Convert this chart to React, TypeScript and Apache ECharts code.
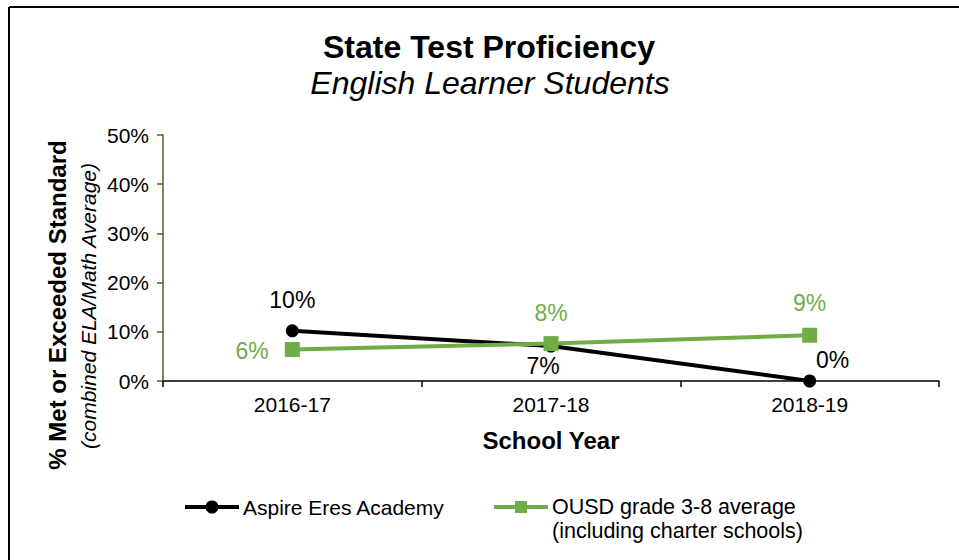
import React, { useEffect, useRef } from "react";
import * as echarts from "echarts";

const categories = ["2016-17", "2017-18", "2018-19"];
const aspireValues = [10.2, 7.1, 0];
const ousdValues = [6.4, 7.6, 9.3];
const yTicks = [0, 10, 20, 30, 40, 50];
const seriesNames = ["Aspire Eres Academy", "OUSD grade 3-8 average\n(including charter schools)"];
const titleText = "State Test Proficiency";
const subtitleText = "English Learner Students";
const yTitle = "% Met or Exceeded Standard";
const ySubTitle = "(combined ELA/Math Average)";
const xTitle = "School Year";

const FONT = "'Liberation Sans', Arial, Helvetica, sans-serif";
const GREEN = "#70ad47";

export default function App() {
  const ref = useRef<HTMLDivElement>(null);
  useEffect(() => {
    if (!ref.current) return;
    const chart = echarts.init(ref.current, null, { renderer: "svg" });
    const fmt = (p: any) => Math.round(p.value) + "%";
    const blackLabels = [
      { position: "top", distance: 13, offset: [0, 0] },
      { position: "bottom", distance: 2, offset: [-8, 0] },
      { position: "top", distance: 3, offset: [23, 0] },
    ];
    const greenLabels = [
      { position: "left", distance: 16, offset: [0, 1] },
      { position: "top", distance: 12, offset: [0, 0] },
      { position: "top", distance: 13, offset: [0, 0] },
    ];
    chart.setOption({
      animation: false,
      backgroundColor: "#ffffff",
      grid: { left: 163, top: 135, width: 776, height: 246 },
      xAxis: {
        type: "category",
        data: categories,
        boundaryGap: true,
        axisLine: { lineStyle: { color: "#000", width: 1.5 } },
        axisTick: { show: true, length: 6, interval: 0, lineStyle: { color: "#000", width: 1.5 } },
        axisLabel: { fontSize: 21, color: "#000", fontFamily: FONT, margin: 13 },
      },
      yAxis: {
        type: "value",
        min: yTicks[0],
        max: yTicks[yTicks.length - 1],
        interval: 10,
        axisLine: { show: true, lineStyle: { color: "#4f6228", width: 1.5 } },
        axisTick: { show: true, length: 6, lineStyle: { color: "#4f6228", width: 1.5 } },
        splitLine: { show: false },
        axisLabel: { formatter: "{value}%", fontSize: 21, color: "#000", fontFamily: FONT, margin: 14 },
      },
      series: [
        {
          name: seriesNames[0],
          type: "line",
          data: aspireValues.map((v, i) => ({
            value: v,
            label: blackLabels[i],
          })),
          symbol: "circle",
          symbolSize: 13,
          lineStyle: { color: "#000", width: 4 },
          itemStyle: { color: "#000" },
          label: { show: true, formatter: fmt, fontSize: 23, color: "#000", fontFamily: FONT },
          z: 2,
        },
        {
          name: seriesNames[1],
          type: "line",
          data: ousdValues.map((v, i) => ({
            value: v,
            label: greenLabels[i],
          })),
          symbol: "rect",
          symbolSize: 15,
          lineStyle: { color: GREEN, width: 4 },
          itemStyle: { color: GREEN },
          label: { show: true, formatter: fmt, fontSize: 23, color: GREEN, fontFamily: FONT },
          z: 3,
        },
      ],
      graphic: [
        { type: "line", shape: { x1: 9, y1: 7, x2: 959, y2: 7 }, style: { stroke: "#000", lineWidth: 2 } },
        { type: "line", shape: { x1: 9, y1: 7, x2: 9, y2: 560 }, style: { stroke: "#000", lineWidth: 2 } },
        {
          type: "text", x: 489, y: 47,
          style: { text: titleText, font: `bold 32px ${FONT}`, fill: "#000", align: "center", verticalAlign: "middle" },
        },
        {
          type: "text", x: 490, y: 83,
          style: { text: subtitleText, font: `italic 32px ${FONT}`, fill: "#000", align: "center", verticalAlign: "middle" },
        },
        {
          type: "text", x: 57, y: 305, rotation: Math.PI / 2,
          style: { text: yTitle, font: `bold 24px ${FONT}`, fill: "#000", align: "center", verticalAlign: "middle" },
        },
        {
          type: "text", x: 88, y: 306, rotation: Math.PI / 2,
          style: { text: ySubTitle, font: `italic 21px ${FONT}`, fill: "#000", align: "center", verticalAlign: "middle" },
        },
        {
          type: "text", x: 551, y: 440,
          style: { text: xTitle, font: `bold 24px ${FONT}`, fill: "#000", align: "center", verticalAlign: "middle" },
        },
        // legend
        { type: "line", shape: { x1: 185, y1: 507, x2: 239, y2: 507 }, style: { stroke: "#000", lineWidth: 4 } },
        { type: "circle", shape: { cx: 212, cy: 507, r: 6.5 }, style: { fill: "#000" } },
        {
          type: "text", x: 243, y: 507,
          style: { text: seriesNames[0], font: `21px ${FONT}`, fill: "#000", align: "left", verticalAlign: "middle" },
        },
        { type: "line", shape: { x1: 494, y1: 507, x2: 548, y2: 507 }, style: { stroke: GREEN, lineWidth: 4 } },
        { type: "rect", shape: { x: 515, y: 501, width: 12, height: 12 }, style: { fill: GREEN } },
        {
          type: "text", x: 552, y: 495,
          style: { text: seriesNames[1], font: `21.5px ${FONT}`, lineHeight: 24, fill: "#000", align: "left", verticalAlign: "top" },
        },
      ],
    });
    return () => chart.dispose();
  }, []);
  return (
    <div
      ref={ref}
      style={{ position: "fixed", left: 0, top: 0, width: 959, height: 560, background: "#fff" }}
    />
  );
}
